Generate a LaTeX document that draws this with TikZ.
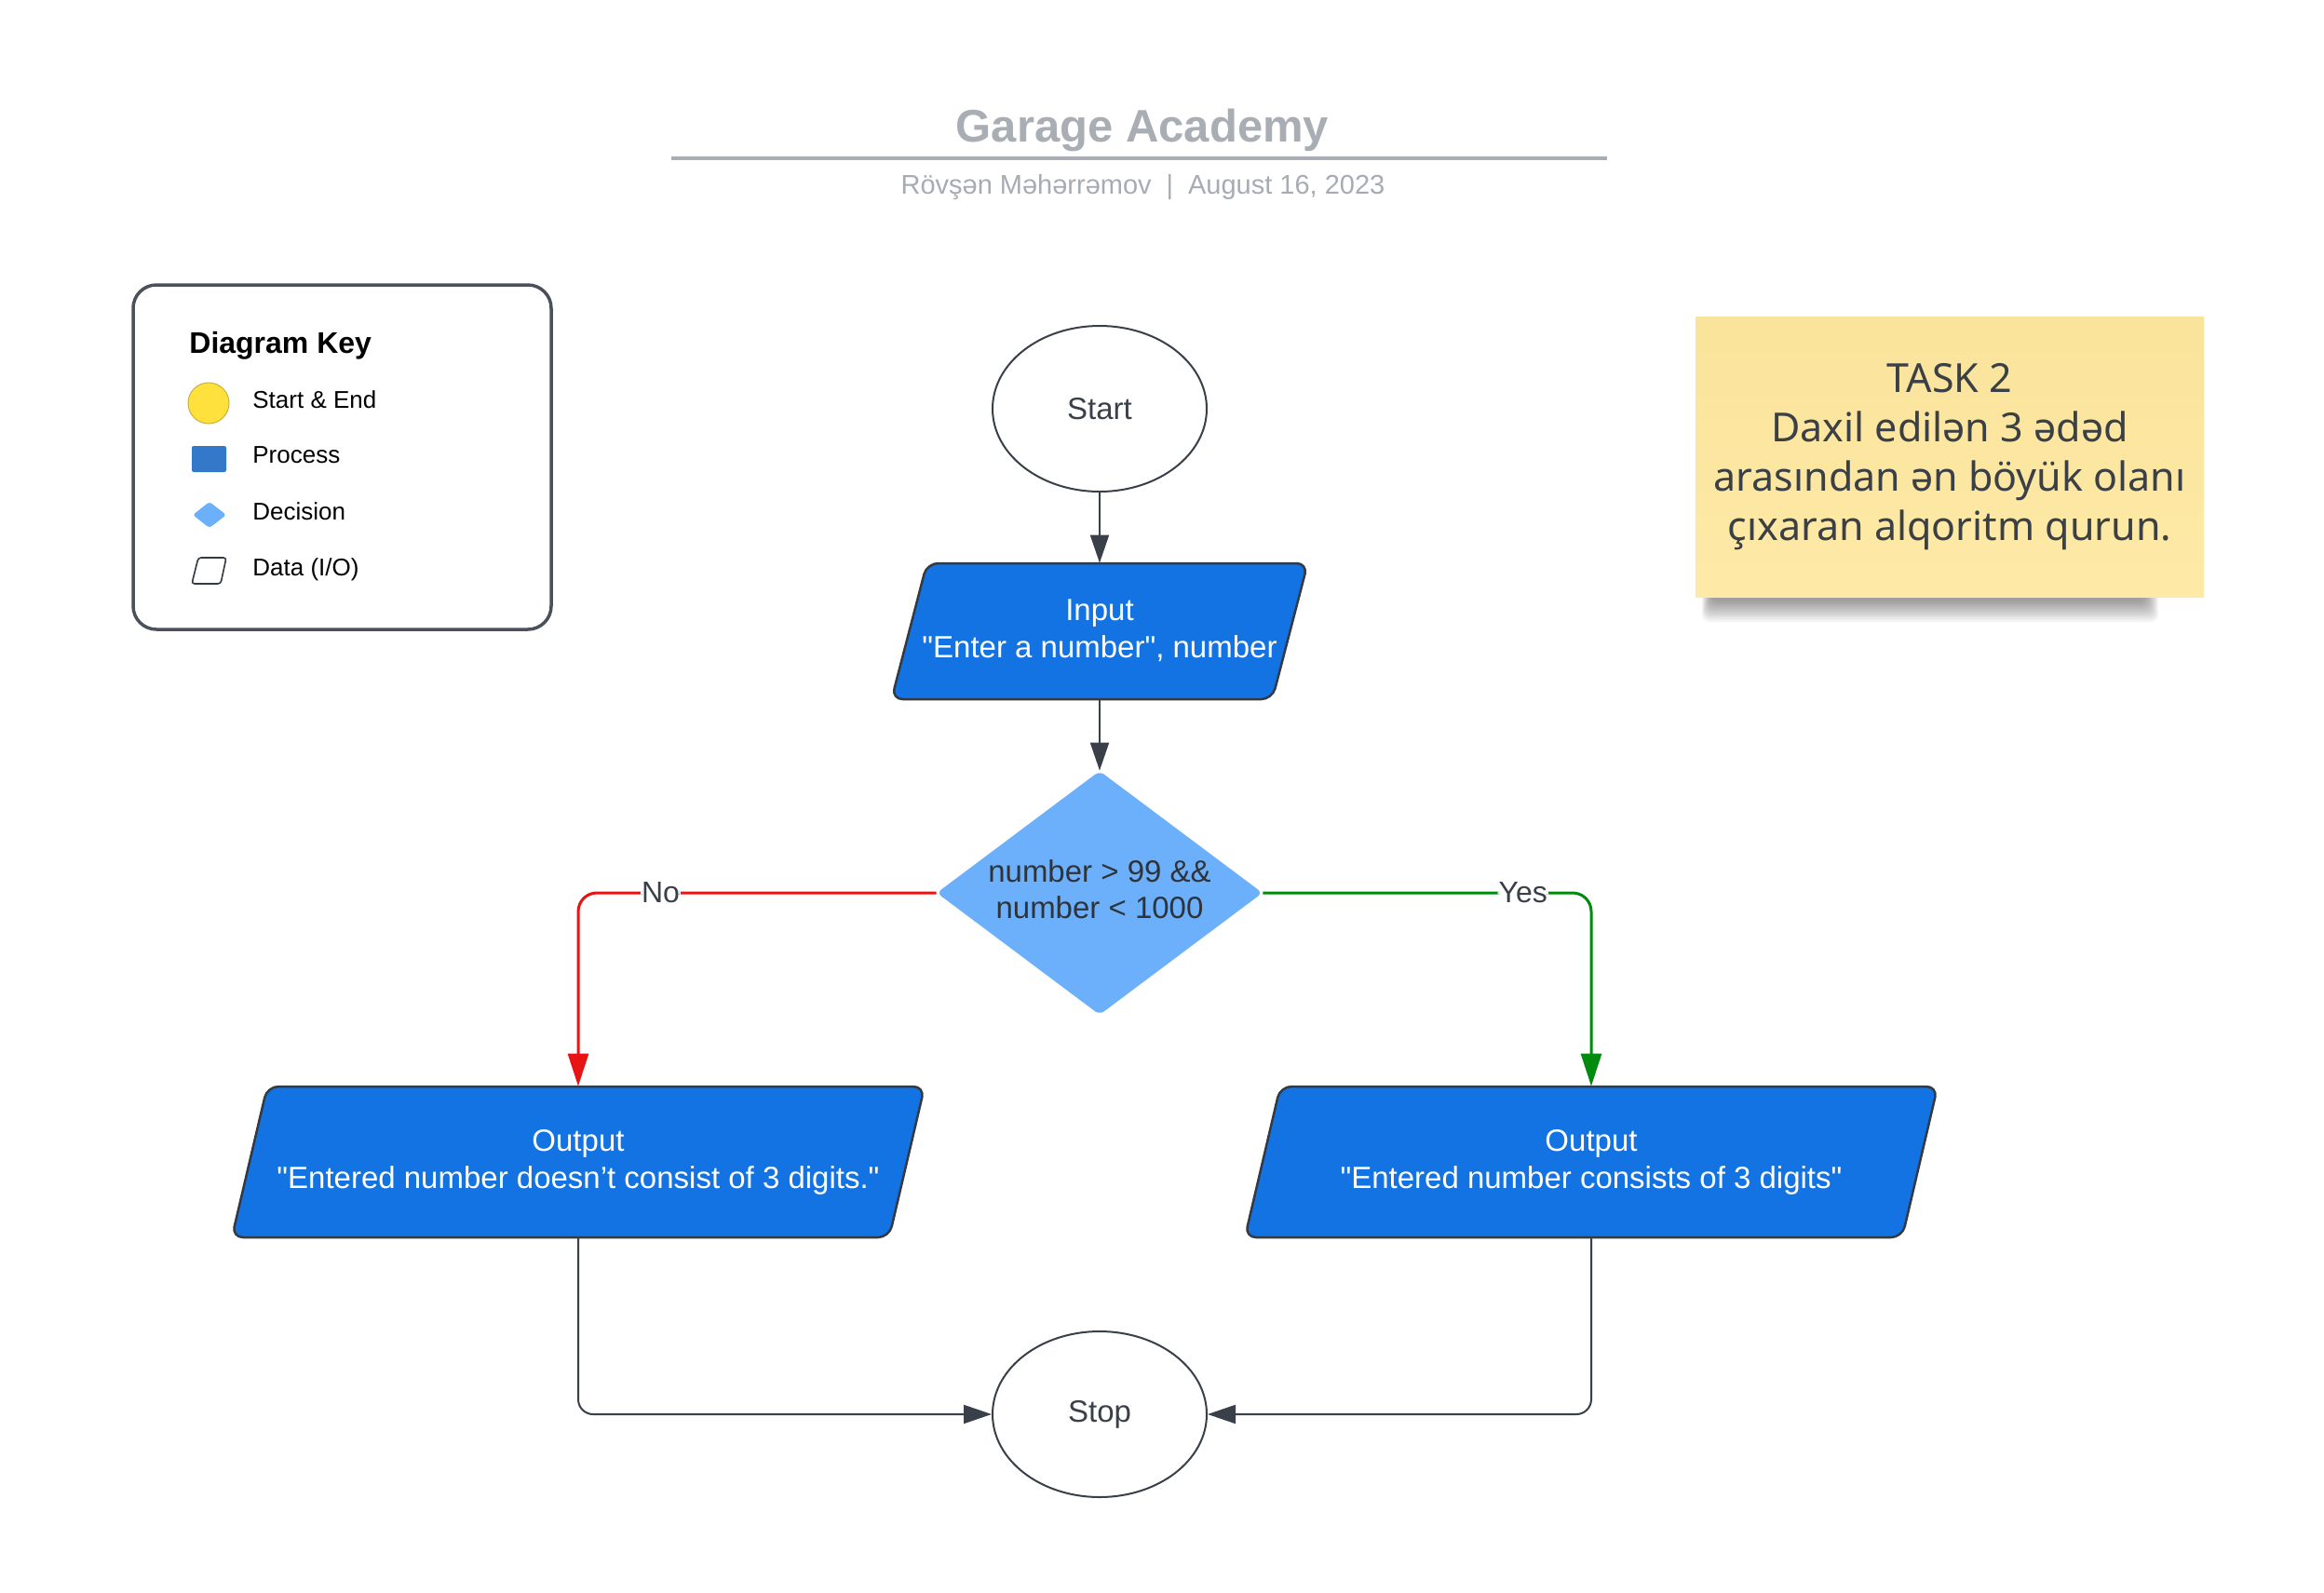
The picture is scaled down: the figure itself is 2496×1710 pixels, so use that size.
\documentclass[tikz,border=0pt]{standalone}
\usepackage{fontspec}
\setmainfont{Liberation Sans}
\newfontfamily\notefont{Noto Sans}
\usetikzlibrary{shapes.geometric,arrows.meta}
\definecolor{ttl}{HTML}{A9AEB5}
\definecolor{subc}{HTML}{A7ACB3}
\definecolor{dk}{HTML}{3A4049}
\definecolor{iofill}{HTML}{1373E3}
\definecolor{ioedge}{HTML}{333A42}
\definecolor{decfill}{HTML}{6CB0FC}
\definecolor{dectext}{HTML}{2F343A}
\definecolor{nored}{HTML}{E81313}
\definecolor{yesgreen}{HTML}{008A0E}
\definecolor{keyedge}{HTML}{4B515A}
\definecolor{keyyellow}{HTML}{FFE13D}
\definecolor{keyyedge}{HTML}{C9B23D}
\definecolor{keyblue}{HTML}{3479C9}
\definecolor{stickytop}{HTML}{FAE39B}
\definecolor{stickybot}{HTML}{FEEAA7}
\definecolor{notetxt}{HTML}{3B4046}
\newcommand\iopath[5]{\draw[io] ({#1-#3/2},{#2+#4/2}) -- ({#1-#3/2+#5},{#2-#4/2}) -- ({#1+#3/2},{#2-#4/2}) -- ({#1+#3/2-#5},{#2+#4/2}) -- cycle;}
\newcommand\twolines[3]{\raisebox{#1}{\begin{tabular}{@{}c@{}}#2\\#3\end{tabular}}}
\newcommand\qq{\textquotedbl}
\tikzset{
  io/.style={draw=ioedge, fill=iofill, line width=1.25pt, rounded corners=6pt},
  iotxt/.style={text=white, font=\fontsize{16.5pt}{20pt}\selectfont, align=center, inner sep=0pt},
  term/.style={ellipse, draw=dk, line width=1pt, fill=white, minimum width=115pt, minimum height=89pt, inner sep=0pt, text=dk, font=\fontsize{16.5pt}{20pt}\selectfont},
  decnode/.style={diamond, fill=decfill, minimum width=175pt, minimum height=131pt, aspect=1.336, inner sep=0pt, rounded corners=3pt, text=dectext, align=center, font=\fontsize{16.5pt}{19.5pt}\selectfont},
  arr/.style={draw=dk, line width=1pt, -{Triangle[length=15pt,width=10pt]}, rounded corners=8pt},
  noarr/.style={draw=nored, line width=1.5pt, -{Triangle[length=17.5pt,width=11pt]}, rounded corners=10pt},
  yesarr/.style={draw=yesgreen, line width=1.5pt, -{Triangle[length=17.5pt,width=11pt]}, rounded corners=10pt},
  lbl/.style={fill=white, inner xsep=0.5pt, inner ysep=1pt, text=dk, font=\fontsize{16pt}{19pt}\selectfont},
  keytxt/.style={anchor=base west, inner sep=0pt, text=black, font=\fontsize{13pt}{15pt}\selectfont},
  keyttl/.style={anchor=base west, inner sep=0pt, text=black, font=\bfseries\fontsize{16pt}{19pt}\selectfont},
}
\begin{document}
\begin{tikzpicture}[x=0.5pt,y=-0.5pt]
\fill[white] (0,0) rectangle (2496,1710);
\useasboundingbox (0,0) rectangle (2496,1710);

% header
\node[anchor=base, inner sep=0pt, text=ttl, font=\bfseries\fontsize{24.5pt}{29pt}\selectfont] (title) at (1227,152) {Garage Academy};
\draw[ttl, line width=2pt] (721,170) -- (1726,170);
\node[anchor=base, inner sep=0pt, text=subc, font=\fontsize{14.5pt}{17pt}\selectfont] (subtitle) at (1227.5,208) {Rövşən Məhərrəmov\hspace{0.55em}|\hspace{0.55em}August 16, 2023};

% diagram key
\draw[keyedge, line width=1.75pt, rounded corners=12.5pt] (143,306) rectangle (592,676);
\node[keyttl] (keytitle) at (203,379) {Diagram Key};
\fill[keyyellow, draw=keyyedge, line width=0.5pt] (224,433) circle (11pt);
\fill[keyblue, rounded corners=1pt] (206,479) rectangle (243,507);
\fill[decfill, rounded corners=1.5pt] (207,553) -- (225,539) -- (243,553) -- (225,567) -- cycle;
\draw[ioedge, line width=0.8pt, rounded corners=1.5pt] (206,627) -- (213,599) -- (243,599) -- (237,627) -- cycle;
\node[keytxt] (k1) at (271,438) {Start \& End};
\node[keytxt] (k2) at (271,497) {Process};
\node[keytxt] (k3) at (271,558) {Decision};
\node[keytxt] (k4) at (271,618) {Data (I/O)};

% sticky note
\foreach \i in {0,...,9}
  \fill[black, opacity=0.045, rounded corners=4pt] ({1828+\i},600) rectangle ({2318-\i*1.5},{668-\i*2.4});
\shade[top color=stickytop, bottom color=stickybot] (1821,340) rectangle (2367,641);
\node[align=center, text=notetxt, font=\notefont\fontsize{21.5pt}{26.5pt}\selectfont] (task) at (2094,491) {TASK 2\\Daxil edilən 3 ədəd\\arasından ən böyük olanı\\çıxaran alqoritm qurun.};

% flowchart shapes
\node[term] (start) at (1181,439) {Start};
\iopath{1181}{678}{447}{146}{38}
\node[iotxt, minimum width=223.5pt, minimum height=73pt] (inp) at (1181,678) {\twolines{1.5pt}{Input}{\qq Enter a number\qq, number}};
\node[decnode] (dec) at (1181,959) {\twolines{2.5pt}{number > 99 \&\&}{number < 1000}};
\iopath{621}{1248}{744}{162}{38}
\node[iotxt, minimum width=372pt, minimum height=81pt] (outL) at (621,1248) {Output\\\qq Entered number doesn’t consist of 3 digits.\qq};
\iopath{1709}{1248}{744}{162}{38}
\node[iotxt, minimum width=372pt, minimum height=81pt] (outR) at (1709,1248) {Output\\\qq Entered number consists of 3 digits\qq};
\node[term] (stop) at (1181,1519) {Stop};

% connectors
\draw[arr] (start.south) -- (inp.north);
\draw[arr] (inp.south) -- (dec.north);
\draw[noarr] (dec.west) -| node[lbl, pos=0.385] {No} (outL.north);
\draw[yesarr] (dec.east) -| node[lbl, pos=0.396] {Yes} (outR.north);
\draw[arr] (outL.south) |- (stop.west);
\draw[arr] (outR.south) |- (stop.east);
\end{tikzpicture}
\end{document}
